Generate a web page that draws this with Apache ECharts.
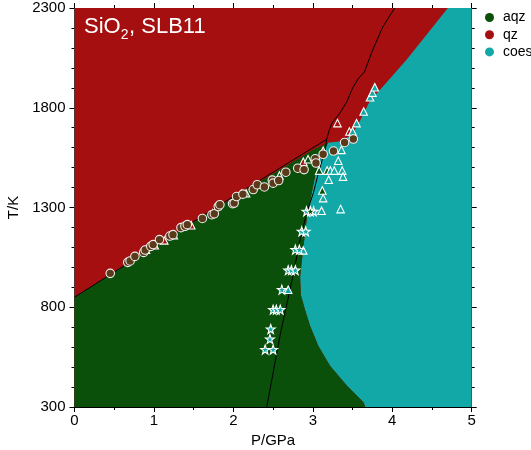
<!DOCTYPE html>
<html>
<head>
<meta charset="utf-8">
<script src="https://cdn.jsdelivr.net/npm/echarts@6/dist/echarts.min.js"></script>
<style>html,body{margin:0;padding:0;background:#fff;}#c{width:531px;height:450px;}</style>
</head>
<body>
<div id="c"></div>
<script>
// ---- data (P in GPa, T in K) ----
const xTicks = [0, 1, 2, 3, 4, 5];
const yTicks = [300, 800, 1300, 1800, 2300];
const phaseNames = ['aqz', 'qz', 'coes'];

// coloured (computed) phase fields
const fieldCoes = [[0,300],[5,300],[5,2300],[0,2300]];
const fieldQzAqz = [[0,300],[0,2300],[4.70,2300],[4.52,2210],[4.18,2040],[3.88,1905],[3.72,1835],[3.60,1740],[3.50,1668],[3.36,1632],[3.19,1625],[3.09,1540],[3.04,1480],[2.97,1340],[2.93,1260],[2.88,1100],[2.84,950],[2.85,860],[2.90,790],[2.966,706],[3.07,606],[3.216,507],[3.43,407],[3.64,323],[3.66,300]];
const fieldAqz = [[0,300],[0,850],[1.79,1300],[3.0,1588],[3.19,1625],[3.09,1540],[3.04,1480],[2.97,1340],[2.93,1260],[2.88,1100],[2.84,950],[2.85,860],[2.90,790],[2.966,706],[3.07,606],[3.216,507],[3.43,407],[3.64,323],[3.66,300]];

// experimental boundaries (black lines)
const lineQzAqz = [[0,850],[1.79,1303],[3.175,1642]];
const lineQzCoes = [[3.175,1642],[3.20,1680],[3.24,1723],[3.34,1773],[3.43,1831],[3.50,1898],[3.57,1945],[3.65,1980],[3.75,2086],[3.88,2205],[4.03,2300]];
const lineAqzCoes = [[3.16,1595],[3.07,1473],[3.007,1373],[2.923,1273],[2.84,1140],[2.754,965],[2.587,657],[2.42,300]];
const lineTripleLink = [[3.175,1642],[3.16,1595]];

// experimental points
const circles = [[0.45,970],[0.67,1025],[0.70,1032],[0.76,1055],[0.87,1075],[0.89,1087],[0.96,1105],[0.99,1114],[1.07,1139],[1.20,1157],[1.24,1164],[1.34,1199],[1.39,1206],[1.42,1214],[1.61,1245],[1.73,1264],[1.76,1269],[1.81,1305],[1.83,1314],[1.99,1319],[2.01,1322],[2.04,1355],[2.12,1367],[2.25,1390],[2.30,1414],[2.39,1403],[2.49,1437],[2.50,1422],[2.57,1435],[2.66,1477],[2.81,1497],[2.89,1490],[3.03,1544],[3.04,1523],[3.13,1567],[3.26,1583],[3.40,1626],[3.51,1643]];
const triQz = [[0.90,1089],[1.01,1111],[1.13,1135],[1.47,1211],[2.88,1529],[3.13,1584],[3.31,1723],[3.46,1681]];
const triAqz = [[1.25,1161],[1.74,1271],[2.10,1369],[2.16,1372],[2.58,1461],[2.94,1542],[3.08,1485],[3.18,1485],[3.12,1385]];
const triCoes = [[3.50,1681],[3.55,1723],[3.64,1781],[3.72,1853],[3.75,1876],[3.78,1903],[3.36,1589],[3.32,1534],[3.22,1485],[3.27,1485],[3.37,1485],[3.38,1455],[3.20,1439],[3.13,1347],[3.11,1284],[3.35,1292],[2.88,1085],[2.69,888]];
const starCoes = [[2.92,1281],[3.01,1281],[2.86,1181],[2.91,1181],[2.78,1089],[2.83,1089],[2.69,986],[2.73,986],[2.78,986],[2.61,888],[2.50,788],[2.54,788],[2.59,788],[2.47,691],[2.46,641],[2.40,588],[2.50,588]];
const starAqz = [[2.97,1281]];

// ---- styling ----
const RED = '#a50f0f', GREEN = '#0a500a', TEAL = '#12a8a8', BROWN = '#5b3a1a';
const FONT = 'Liberation Sans, Arial, Helvetica, sans-serif';
const STAR = 'path://M0,-10 L2.35,-3.24 L9.51,-3.09 L3.8,1.24 L5.88,8.09 L0,4 L-5.88,8.09 L-3.8,1.24 L-9.51,-3.09 L-2.35,-3.24 Z';

function polySeries(name, pts, color) {
  return {
    name: name, type: 'custom', clip: true, silent: true,
    itemStyle: { color: color },
    data: [pts[0]],
    renderItem: function (params, api) {
      return {
        type: 'polygon',
        shape: { points: pts.map(function (p) { return api.coord(p); }) },
        style: { fill: color, stroke: null }
      };
    }
  };
}
function lineSeries(pts) {
  return { type: 'line', data: pts, showSymbol: false, symbol: 'none', silent: true, clip: true,
    lineStyle: { color: '#000', width: 1 }, z: 5 };
}
function scatter(pts, symbol, size, fill, border) {
  return { type: 'scatter', data: pts, symbol: symbol, symbolSize: size, silent: true, z: 6,
    itemStyle: { color: fill, borderColor: border, borderWidth: 1.1, opacity: 1 } };
}
function plain(v) { return String(v); }

const axisCommon = {
  type: 'value',
  axisLine: { show: true, onZero: false, lineStyle: { color: '#000', width: 1 } },
  axisTick: { show: true, inside: false, length: 5, lineStyle: { color: '#000', width: 1 } },
  minorTick: { show: true, length: 3, lineStyle: { color: '#000', width: 1 } },
  splitLine: { show: false },
  minorSplitLine: { show: false }
};

const chart = echarts.init(document.getElementById('c'), null, { renderer: 'canvas' });
chart.setOption({
  animation: false,
  backgroundColor: '#fff',
  grid: { left: 74.5, top: 8, width: 397.2, height: 399, containLabel: false, outerBoundsMode: 'none' },
  xAxis: [
    Object.assign({}, axisCommon, {
      position: 'bottom', min: xTicks[0], max: xTicks[xTicks.length - 1], interval: 1,
      minorTick: Object.assign({}, axisCommon.minorTick, { splitNumber: 2 }),
      axisLabel: { color: '#000', fontSize: 15, fontFamily: FONT, margin: 6, formatter: plain },
      name: 'P/GPa', nameLocation: 'middle', nameGap: 25,
      nameTextStyle: { color: '#000', fontSize: 15, fontFamily: FONT }
    }),
    Object.assign({}, axisCommon, {
      position: 'top', min: xTicks[0], max: xTicks[xTicks.length - 1], interval: 1,
      minorTick: Object.assign({}, axisCommon.minorTick, { splitNumber: 2 }),
      axisLabel: { show: false }
    })
  ],
  yAxis: [
    Object.assign({}, axisCommon, {
      position: 'left', min: yTicks[0], max: yTicks[yTicks.length - 1], interval: 500,
      minorTick: Object.assign({}, axisCommon.minorTick, { splitNumber: 5 }),
      axisLabel: { color: '#000', fontSize: 15, fontFamily: FONT, margin: 9, formatter: plain },
      name: 'T/K', nameLocation: 'middle', nameGap: 46, nameRotate: 90,
      nameTextStyle: { color: '#000', fontSize: 15, fontFamily: FONT }
    }),
    Object.assign({}, axisCommon, {
      position: 'right', min: yTicks[0], max: yTicks[yTicks.length - 1], interval: 500,
      minorTick: Object.assign({}, axisCommon.minorTick, { splitNumber: 5 }),
      axisLabel: { show: false }
    })
  ],
  legend: {
    orient: 'vertical', left: 485, top: 10.5, padding: 0, selectedMode: false,
    itemWidth: 17, itemHeight: 9, itemGap: 3.2,
    textStyle: { color: '#000', fontSize: 14, fontFamily: FONT, lineHeight: 14 },
    data: phaseNames.map(function (n) { return { name: n, icon: 'circle' }; })
  },
  graphic: [
    { type: 'text', left: 84, top: 15.5, z: 100, style: { text: 'SiO', fill: '#fff', font: '22px ' + FONT } },
    { type: 'text', left: 120.7, top: 28, z: 100, style: { text: '2', fill: '#fff', font: '14px ' + FONT } },
    { type: 'text', left: 129, top: 15.5, z: 100, style: { text: ', SLB11', fill: '#fff', font: '22px ' + FONT } }
  ],
  series: [
    polySeries('coes', fieldCoes, TEAL),
    polySeries('qz', fieldQzAqz, RED),
    polySeries('aqz', fieldAqz, GREEN),
    lineSeries(lineQzAqz),
    lineSeries(lineQzCoes),
    lineSeries(lineAqzCoes),
    lineSeries(lineTripleLink),
    scatter(triQz, 'triangle', 7.5, RED, '#fff'),
    scatter(triAqz, 'triangle', 7.5, GREEN, '#fff'),
    scatter(triCoes, 'triangle', 7.5, TEAL, '#fff'),
    scatter(starCoes, STAR, 9, TEAL, '#fff'),
    scatter(starAqz, STAR, 9, GREEN, '#fff'),
    scatter(circles, 'circle', 8.5, BROWN, '#eee')
  ]
});
</script>
</body>
</html>
